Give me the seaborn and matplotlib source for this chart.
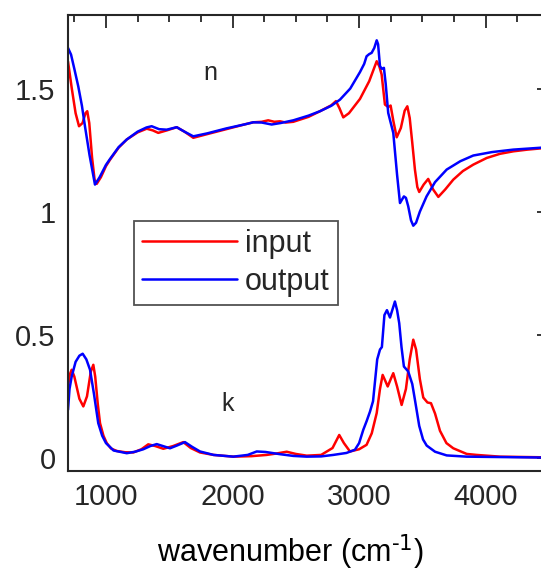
import matplotlib
matplotlib.use("Agg")
import matplotlib.pyplot as plt
import seaborn as sns
from matplotlib.ticker import MultipleLocator

# refractive index n, input spectrum
wn_n_in = [700, 730, 760, 787, 815, 838, 852, 868, 890, 910, 927, 960, 1000, 1032, 1100, 1164,
           1250, 1322, 1370, 1413, 1480, 1559, 1620, 1690, 1800, 1950, 2100, 2164, 2230, 2282,
           2330, 2375, 2420, 2480, 2600, 2691, 2780, 2817, 2845, 2875, 2920, 3007, 3080, 3139,
           3160, 3178, 3204, 3230, 3249, 3270, 3297, 3330, 3360, 3381, 3400, 3420, 3441, 3460,
           3475, 3510, 3546, 3585, 3626, 3680, 3744, 3820, 3902, 4008, 4113, 4218, 4330, 4500]
n_in = [1.61, 1.50, 1.40, 1.347, 1.36, 1.40, 1.408, 1.36, 1.22, 1.13, 1.113, 1.14, 1.185, 1.211,
        1.26, 1.293, 1.322, 1.337, 1.33, 1.32, 1.33, 1.343, 1.325, 1.30, 1.315, 1.335, 1.355,
        1.363, 1.365, 1.371, 1.365, 1.367, 1.362, 1.365, 1.385, 1.408, 1.432, 1.449, 1.42, 1.383,
        1.40, 1.458, 1.53, 1.611, 1.59, 1.557, 1.435, 1.425, 1.431, 1.37, 1.302, 1.34, 1.41,
        1.428, 1.38, 1.28, 1.171, 1.10, 1.08, 1.11, 1.133, 1.09, 1.06, 1.09, 1.13, 1.165, 1.191,
        1.218, 1.235, 1.245, 1.252, 1.26]

# refractive index n, output spectrum
wn_n_out = [700, 724, 750, 781, 810, 834, 870, 913, 950, 1000, 1032, 1100, 1164, 1250, 1320,
            1361, 1420, 1480, 1559, 1620, 1690, 1800, 1950, 2100, 2164, 2230, 2270, 2309, 2380,
            2480, 2600, 2691, 2780, 2849, 2930, 3007, 3040, 3059, 3080, 3099, 3120, 3139, 3150,
            3165, 3180, 3196, 3210, 3230, 3270, 3300, 3323, 3340, 3354, 3370, 3388, 3410, 3428,
            3450, 3480, 3533, 3600, 3692, 3800, 3902, 4050, 4218, 4500]
n_out = [1.665, 1.638, 1.58, 1.509, 1.43, 1.347, 1.23, 1.11, 1.14, 1.19, 1.214, 1.262, 1.293,
         1.325, 1.342, 1.347, 1.335, 1.333, 1.343, 1.325, 1.306, 1.318, 1.338, 1.355, 1.363,
         1.362, 1.358, 1.354, 1.36, 1.371, 1.39, 1.408, 1.43, 1.455, 1.50, 1.567, 1.60, 1.631,
         1.64, 1.645, 1.665, 1.696, 1.68, 1.591, 1.58, 1.584, 1.52, 1.401, 1.32, 1.15, 1.035,
         1.05, 1.062, 1.056, 1.022, 0.965, 0.943, 0.955, 1.0, 1.062, 1.12, 1.171, 1.205, 1.228,
         1.242, 1.252, 1.262]

# extinction coefficient k, input spectrum
wn_k_in = [700, 715, 729, 750, 790, 821, 850, 880, 900, 915, 935, 953, 980, 1006, 1040, 1085,
           1150, 1216, 1280, 1334, 1390, 1453, 1530, 1611, 1670, 1743, 1850, 2006, 2150, 2270,
           2350, 2428, 2500, 2586, 2700, 2790, 2843, 2880, 2928, 3000, 3059, 3100, 3139, 3165,
           3186, 3205, 3226, 3250, 3270, 3300, 3336, 3370, 3400, 3428, 3450, 3480, 3507, 3540,
           3568, 3600, 3639, 3690, 3744, 3850, 3929, 4113, 4500]
k_in = [0.29, 0.34, 0.358, 0.33, 0.24, 0.209, 0.25, 0.35, 0.378, 0.33, 0.22, 0.141, 0.09, 0.06,
        0.038, 0.028, 0.023, 0.022, 0.035, 0.055, 0.048, 0.037, 0.048, 0.064, 0.04, 0.022, 0.012,
        0.005, 0.007, 0.012, 0.018, 0.025, 0.016, 0.009, 0.012, 0.04, 0.093, 0.06, 0.026, 0.035,
        0.053, 0.10, 0.182, 0.28, 0.337, 0.315, 0.29, 0.32, 0.344, 0.29, 0.215, 0.28, 0.40, 0.48,
        0.44, 0.32, 0.245, 0.225, 0.222, 0.18, 0.11, 0.06, 0.039, 0.016, 0.012, 0.005, 0.002]

# extinction coefficient k, output spectrum
wn_k_out = [700, 712, 729, 760, 790, 816, 845, 874, 905, 939, 970, 1000, 1060, 1164, 1230, 1295,
            1350, 1401, 1450, 1506, 1560, 1624, 1680, 1743, 1850, 2006, 2120, 2191, 2260, 2375,
            2480, 2586, 2700, 2796, 2900, 2967, 3000, 3033, 3060, 3086, 3110, 3143, 3165, 3180,
            3200, 3220, 3244, 3262, 3283, 3300, 3317, 3335, 3354, 3388, 3420, 3441, 3475, 3505,
            3534, 3600, 3692, 3850, 4500]
k_out = [0.195, 0.28, 0.33, 0.39, 0.415, 0.423, 0.40, 0.358, 0.26, 0.141, 0.09, 0.06, 0.03,
         0.019, 0.025, 0.035, 0.048, 0.056, 0.048, 0.039, 0.05, 0.064, 0.045, 0.026, 0.012,
         0.005, 0.012, 0.026, 0.024, 0.015, 0.008, 0.005, 0.006, 0.012, 0.02, 0.033, 0.06, 0.114,
         0.15, 0.188, 0.23, 0.40, 0.44, 0.45, 0.58, 0.60, 0.57, 0.60, 0.635, 0.60, 0.547, 0.45,
         0.371, 0.351, 0.30, 0.236, 0.13, 0.075, 0.05, 0.025, 0.01, 0.005, 0.001]

sns.set_style("white")
plt.rcParams['font.family'] = ['Liberation Sans', 'DejaVu Sans']
axcol = '#262626'

fig = plt.figure(figsize=(5.41, 5.74), dpi=100)
ax = fig.add_axes([0.1257, 0.18, 0.889, 0.7944])

lw = 1.8
sns.lineplot(x=wn_n_in, y=n_in, color='red', lw=lw, estimator=None, ax=ax, label='input')
sns.lineplot(x=wn_n_out, y=n_out, color='blue', lw=lw, estimator=None, ax=ax, label='output')
sns.lineplot(x=wn_k_in, y=k_in, color='red', lw=lw, estimator=None, ax=ax)
sns.lineplot(x=wn_k_out, y=k_out, color='blue', lw=lw, estimator=None, ax=ax)

ax.set_xlim(700, 4500)
ax.set_ylim(-0.052, 1.80)
ax.set_xticks([1000, 2000, 3000, 4000])
ax.set_yticks([0, 0.5, 1, 1.5])
ax.set_yticklabels(['0', '0.5', '1', '1.5'])
ax.xaxis.set_minor_locator(MultipleLocator(250))
ax.yaxis.set_minor_locator(MultipleLocator(0.125))
ax.tick_params(which='both', direction='in', top=True, right=True, colors=axcol, width=1.3)
ax.tick_params(which='major', length=9, labelsize=21, pad=9, labelcolor=axcol)
ax.tick_params(which='minor', length=5)
for s in ax.spines.values():
    s.set_color(axcol)
    s.set_linewidth(1.5)

ax.set_xlabel('wavenumber (cm$^{\\text{-1}}$)', fontsize=22, color='black')
ax.xaxis.set_label_coords(0.4615, -0.135)
ax.set_ylabel('')

ax.text(1822, 1.563, 'n', fontsize=18, ha='center', va='center')
ax.text(1964, 0.22, 'k', fontsize=18, ha='center', va='center')

leg = ax.legend(loc='upper left', bbox_to_anchor=(0.137, 0.548), borderaxespad=0,
                fontsize=22, frameon=True, fancybox=False, handlelength=3.1,
                handletextpad=0.26, borderpad=0.27, labelspacing=0.25)
leg.get_frame().set_edgecolor(axcol)
leg.get_frame().set_linewidth(1.3)

fig.savefig('out.png', dpi=100)
